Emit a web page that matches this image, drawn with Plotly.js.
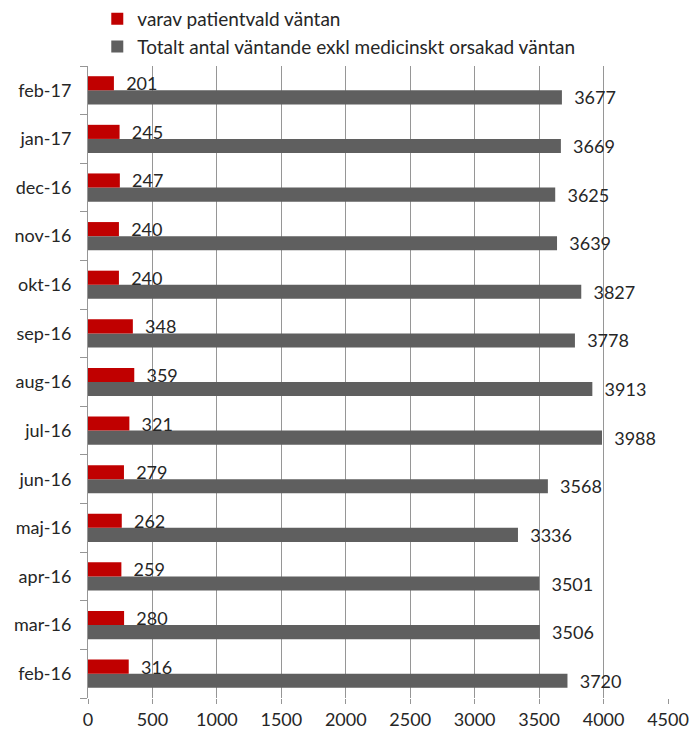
<!DOCTYPE html>
<html><head><meta charset="utf-8">
<script src="https://cdn.plot.ly/plotly-3.0.1.min.js"></script>
<style>html,body{margin:0;padding:0;background:#fff}</style>
</head><body>
<div id="chart" style="width:694px;height:731px"></div>
<script>
const months = ['feb-16','mar-16','apr-16','maj-16','jun-16','jul-16','aug-16','sep-16','okt-16','nov-16','dec-16','jan-17','feb-17'];
const patientvald = [316,280,259,262,279,321,359,348,240,240,247,245,201];
const totalt = [3720,3506,3501,3336,3568,3988,3913,3778,3827,3639,3625,3669,3677];
const xTicks = [0,500,1000,1500,2000,2500,3000,3500,4000,4500];

const font = 'Lato, "Open Sans", sans-serif';
const traces = [
  {type:'bar', orientation:'h', name:'Totalt antal väntande exkl medicinskt orsakad väntan',
   y: months, x: totalt, marker:{color:'#5f5f5f'},
   text: totalt.map(v=>String(v)), texttemplate:'  %{text}', textposition:'outside', cliponaxis:false,
   constraintext:'none', textfont:{family:font,size:18,color:'#262626'}},
  {type:'bar', orientation:'h', name:'varav patientvald väntan',
   y: months, x: patientvald, marker:{color:'#c00000'},
   text: patientvald.map(v=>String(v)), texttemplate:'  %{text}', textposition:'outside', cliponaxis:false,
   constraintext:'none', textfont:{family:font,size:18,color:'#262626'}}
];
const layout = {
  width:694, height:731,
  margin:{l:88, r:26, t:64, b:33},
  barmode:'group', bargap:0.42, bargroupgap:0,
  font:{family:font, size:18, color:'#262626'},
  paper_bgcolor:'#fff', plot_bgcolor:'#fff',
  showlegend:true,
  legend:{x:0.016, xanchor:'left', y:1, yref:'container', yanchor:'top', traceorder:'reversed',
          font:{family:font,size:19,color:'#262626'}, tracegroupgap:0, itemwidth:30},
  xaxis:{range:[0,4500], tickvals:xTicks, ticktext:xTicks.map(String), showgrid:true, gridcolor:'#969696', gridwidth:1,
         zeroline:false, showline:false, ticks:'outside', ticklen:5, tickcolor:'#969696',
         tickfont:{family:font,size:18,color:'#262626'}, fixedrange:true},
  yaxis:{type:'category', categoryorder:'array', categoryarray:months, showgrid:false, showline:true, linecolor:'#969696',
         ticks:'outside', tickson:'boundaries', ticklen:7, tickcolor:'#969696', ticklabelstandoff:12,
         tickfont:{family:font,size:18,color:'#262626'}, zeroline:false, fixedrange:true}
};
Plotly.newPlot('chart', traces, layout, {staticPlot:true});
</script>
</body></html>
